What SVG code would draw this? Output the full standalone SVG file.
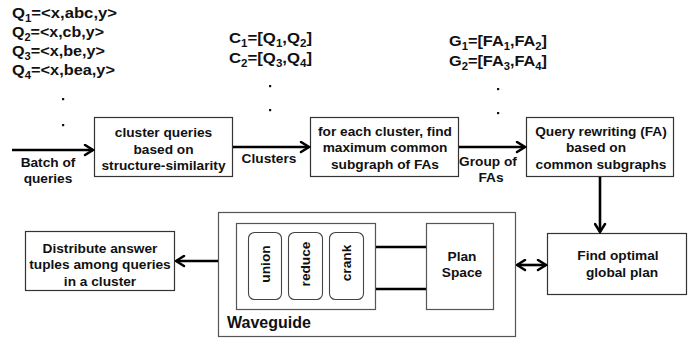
<svg xmlns="http://www.w3.org/2000/svg" width="688" height="342" viewBox="0 0 688 342">
  <defs>
    <marker id="head" viewBox="0 0 13 13" refX="11.5" refY="6.5" markerWidth="13" markerHeight="13" markerUnits="userSpaceOnUse" orient="auto-start-reverse">
      <path d="M3.5,1.5 L11.5,6.5 L3.5,11.5" fill="none" stroke="#000" stroke-width="2.5" stroke-linecap="round" stroke-linejoin="miter"/>
    </marker>
  </defs>
  <style>
    text { font-family: "Liberation Sans", Arial, sans-serif; font-weight: bold; fill: #111; }
    .lbl { font-size: 13.7px; text-anchor: middle; }
    .set { font-size: 14.5px; }
    .sub { font-size: 10px; }
    .box { fill: #fff; stroke: #333; stroke-width: 1.2; }
    .wg { fill: #fff; stroke: #555; stroke-width: 1.2; }
    .op { fill: #fff; stroke: #444; stroke-width: 1.1; }
    .edge { fill: none; stroke: #000; stroke-width: 2.6; }
    .dot { fill: #111; }
  </style>

  <rect width="688" height="342" fill="#fff"/>

  <!-- query batch -->
  <g id="queries">
    <text class="set" x="12" y="17.5" textLength="105" lengthAdjust="spacingAndGlyphs">Q<tspan class="sub" dy="4">1</tspan><tspan dy="-4">=&lt;x,abc,y&gt;</tspan></text>
    <text class="set" x="12" y="36.5" textLength="92" lengthAdjust="spacingAndGlyphs">Q<tspan class="sub" dy="4">2</tspan><tspan dy="-4">=&lt;x,cb,y&gt;</tspan></text>
    <text class="set" x="12" y="55.5" textLength="93" lengthAdjust="spacingAndGlyphs">Q<tspan class="sub" dy="4">3</tspan><tspan dy="-4">=&lt;x,be,y&gt;</tspan></text>
    <text class="set" x="12" y="75" textLength="103" lengthAdjust="spacingAndGlyphs">Q<tspan class="sub" dy="4">4</tspan><tspan dy="-4">=&lt;x,bea,y&gt;</tspan></text>
    <rect class="dot" x="62" y="98" width="2.2" height="2.2"/>
    <rect class="dot" x="62" y="124" width="2.2" height="2.2"/>
  </g>

  <!-- cluster sets -->
  <g id="clusters">
    <text class="set" x="229" y="43" textLength="83" lengthAdjust="spacingAndGlyphs">C<tspan class="sub" dy="4">1</tspan><tspan dy="-4">=[Q</tspan><tspan class="sub" dy="4">1</tspan><tspan dy="-4">,Q</tspan><tspan class="sub" dy="4">2</tspan><tspan dy="-4">]</tspan></text>
    <text class="set" x="229" y="63" textLength="83" lengthAdjust="spacingAndGlyphs">C<tspan class="sub" dy="4">2</tspan><tspan dy="-4">=[Q</tspan><tspan class="sub" dy="4">3</tspan><tspan dy="-4">,Q</tspan><tspan class="sub" dy="4">4</tspan><tspan dy="-4">]</tspan></text>
    <rect class="dot" x="269" y="85" width="2.2" height="2.2"/>
    <rect class="dot" x="269" y="109" width="2.2" height="2.2"/>
  </g>

  <!-- FA groups -->
  <g id="groups">
    <text class="set" x="449" y="46" textLength="98" lengthAdjust="spacingAndGlyphs">G<tspan class="sub" dy="4">1</tspan><tspan dy="-4">=[FA</tspan><tspan class="sub" dy="4">1</tspan><tspan dy="-4">,FA</tspan><tspan class="sub" dy="4">2</tspan><tspan dy="-4">]</tspan></text>
    <text class="set" x="449" y="66" textLength="98" lengthAdjust="spacingAndGlyphs">G<tspan class="sub" dy="4">2</tspan><tspan dy="-4">=[FA</tspan><tspan class="sub" dy="4">3</tspan><tspan dy="-4">,FA</tspan><tspan class="sub" dy="4">4</tspan><tspan dy="-4">]</tspan></text>
    <rect class="dot" x="497" y="88" width="2.2" height="2.2"/>
    <rect class="dot" x="497" y="112" width="2.2" height="2.2"/>
  </g>

  <g id="cluster-queries">
    <rect class="box" x="94.5" y="117.5" width="138" height="59"/>
    <text class="lbl" x="163.5" y="137">cluster queries</text>
    <text class="lbl" x="163.5" y="153.5">based on</text>
    <text class="lbl" x="163.5" y="170">structure-similarity</text>
  </g>

  <g id="common-subgraph">
    <rect class="box" x="310.5" y="117.5" width="148" height="59"/>
    <text class="lbl" x="385" y="135.5">for each cluster, find</text>
    <text class="lbl" x="385" y="152">maximum common</text>
    <text class="lbl" x="385" y="168.5">subgraph of FAs</text>
  </g>

  <g id="query-rewriting">
    <rect class="box" x="526.5" y="117.5" width="147" height="59"/>
    <text class="lbl" x="601" y="135.5">Query rewriting (FA)</text>
    <text class="lbl" x="596" y="152">based on</text>
    <text class="lbl" x="601" y="168.5">common subgraphs</text>
  </g>

  <g id="global-plan">
    <rect class="box" x="547.5" y="233.5" width="139" height="61"/>
    <text class="lbl" x="618" y="260">Find optimal</text>
    <text class="lbl" x="622" y="277">global plan</text>
  </g>

  <g id="distribute">
    <rect class="box" x="25.5" y="231.5" width="149" height="59"/>
    <text class="lbl" x="100" y="252.5">Distribute answer</text>
    <text class="lbl" x="100" y="269">tuples among queries</text>
    <text class="lbl" x="100" y="285.5">in a cluster</text>
  </g>

  <g id="waveguide">
    <rect class="wg" x="218.5" y="212.5" width="297" height="124"/>
    <rect class="wg" x="236.5" y="223.5" width="139" height="86"/>
    <g id="op-union">
      <rect class="op" x="248.5" y="232.5" width="33" height="67" rx="6"/>
      <text class="lbl" transform="translate(265,264) rotate(-90)" dominant-baseline="central">union</text>
    </g>
    <g id="op-reduce">
      <rect class="op" x="288.5" y="232.5" width="34" height="67" rx="6"/>
      <text class="lbl" transform="translate(305.5,264) rotate(-90)" dominant-baseline="central">reduce</text>
    </g>
    <g id="op-crank">
      <rect class="op" x="329.5" y="232.5" width="34" height="67" rx="6"/>
      <text class="lbl" transform="translate(346.5,263) rotate(-90)" dominant-baseline="central">crank</text>
    </g>
    <g id="plan-space">
      <rect class="wg" x="426.5" y="223.5" width="67" height="86"/>
      <text class="lbl" x="462" y="261">Plan</text>
      <text class="lbl" x="462" y="277">Space</text>
    </g>
    <text x="227" y="328" style="font-size:16px">Waveguide</text>
  </g>

  <!-- connectors -->
  <g id="connectors">
    <line class="edge" x1="12" y1="150" x2="93" y2="150" marker-end="url(#head)"/>
    <line class="edge" x1="233" y1="147" x2="309" y2="147" marker-end="url(#head)"/>
    <line class="edge" x1="459" y1="147" x2="525" y2="147" marker-end="url(#head)"/>
    <line class="edge" x1="600" y1="177" x2="600" y2="232" marker-end="url(#head)"/>
    <line class="edge" x1="517" y1="265" x2="546" y2="265" marker-start="url(#head)" marker-end="url(#head)"/>
    <line class="edge" x1="218" y1="261" x2="176" y2="261" marker-end="url(#head)"/>
    <line class="edge" x1="376" y1="247" x2="426" y2="247"/>
    <line class="edge" x1="376" y1="289" x2="426" y2="289"/>
    <text class="lbl" x="48" y="167">Batch of</text>
    <text class="lbl" x="48" y="183">queries</text>
    <text class="lbl" x="269" y="163">Clusters</text>
    <text class="lbl" x="488" y="166">Group of</text>
    <text class="lbl" x="491" y="182">FAs</text>
  </g>
</svg>
